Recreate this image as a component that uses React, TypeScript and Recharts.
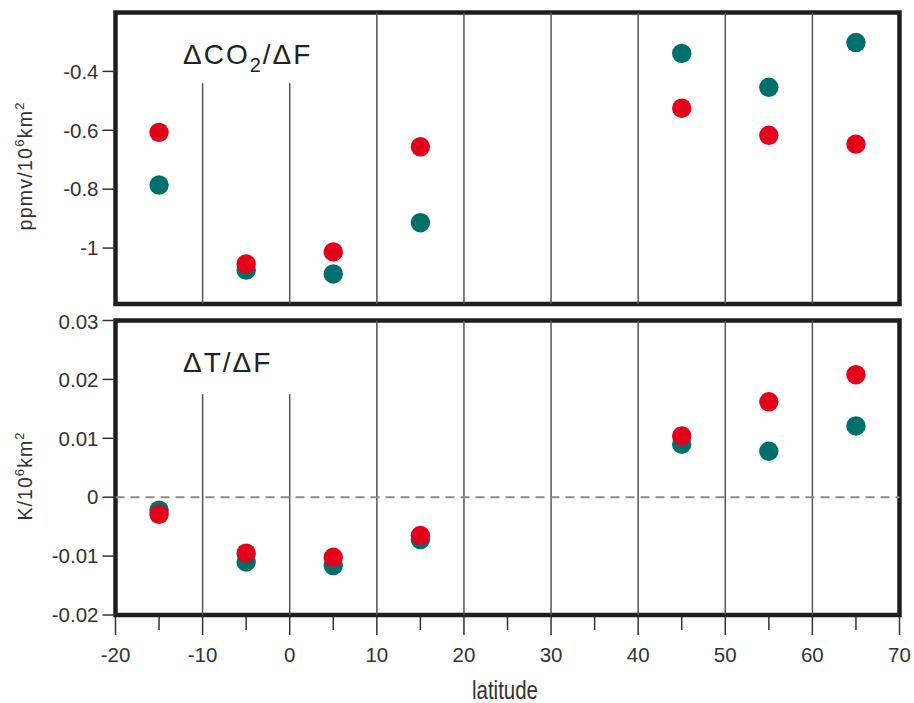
import { ScatterChart, Scatter, XAxis, YAxis, ReferenceLine, ReferenceArea } from 'recharts';

// latitude bands (deg)
const latitudes = [-15, -5, 5, 15, 45, 55, 65];

// dCO2/dF, ppmv per 10^6 km2
const co2Teal = [-0.786, -1.075, -1.088, -0.914, -0.339, -0.454, -0.302];
const co2Red = [-0.607, -1.054, -1.013, -0.656, -0.525, -0.617, -0.647];

// dT/dF, K per 10^6 km2
const tempTeal = [-0.0022, -0.011, -0.0116, -0.0072, 0.009, 0.0078, 0.0121];
const tempRed = [-0.0029, -0.0095, -0.0102, -0.0065, 0.0104, 0.0162, 0.0208];

const xTicks = [-20, -15, -10, -5, 0, 5, 10, 15, 20, 25, 30, 35, 40, 45, 50, 55, 60, 65, 70];
const co2Ticks = [-1, -0.8, -0.6, -0.4];
const tempTicks = [-0.02, -0.01, 0, 0.01, 0.02, 0.03];
const fullGrid = [10, 20, 30, 40, 50, 60];
const shortGrid = [-10, 0];

const TEAL = '#006f6b';
const RED = '#e2001a';
const FONT = '"Liberation Sans", Arial, Helvetica, sans-serif';

const toPoints = (ys: number[]) => latitudes.map((x, i) => ({ x, y: ys[i] }));

const dot = (color: string) => (props: any) => (
  <circle cx={props.cx} cy={props.cy} r={9.7} fill={color} />
);

const XTick = ({ x, y, payload }: any) => {
  const major = payload.value % 10 === 0;
  return (
    <g>
      <line x1={x} x2={x} y1={y + 2} y2={y + (major ? 20 : 15)} stroke="#333" strokeWidth={1.5} />
      {major && (
        <text x={x} y={y + 47} textAnchor="middle" fontSize={20.5} fontFamily={FONT} fill="#333">
          {payload.value}
        </text>
      )}
    </g>
  );
};

// rotated unit label with superscripts, stretched to the reference length
const YLabel = ({ prefix, length }: any) => {
  const cx = 32;
  const cy = 166.5;
  return (
    <text
      x={cx}
      y={cy}
      transform={`rotate(-90, ${cx}, ${cy})`}
      textAnchor="middle"
      fontSize={19.5}
      fontFamily={FONT}
      fill="#333"
      textLength={length}
      lengthAdjust="spacing"
    >
      {prefix}/10
      <tspan dy={-8} fontSize={13}>6</tspan>
      <tspan dy={8}>km</tspan>
      <tspan dy={-8} fontSize={13}>2</tspan>
    </text>
  );
};

const XLabel = () => (
  <text
    x={505}
    y={389}
    textAnchor="middle"
    fontSize={25}
    fontFamily={FONT}
    fill="#333"
    textLength={66}
    lengthAdjust="spacingAndGlyphs"
  >
    latitude
  </text>
);

const yTickStyle = { fill: '#333', fontSize: 20.5, fontFamily: FONT };

export default function App() {
  return (
    <div style={{ position: 'absolute', left: 0, top: 0, width: 914, height: 703, background: '#fff' }}>
      {/* upper panel: CO2 */}
      <div style={{ position: 'absolute', left: 0, top: 0 }}>
        <ScatterChart width={914} height={320} margin={{ top: 12.5, right: 14.5, bottom: 16, left: 0 }}>
          <XAxis type="number" dataKey="x" domain={[-20, 70]} hide />
          <YAxis
            type="number"
            dataKey="y"
            domain={[-1.19, -0.2]}
            ticks={co2Ticks}
            width={115.5}
            axisLine={false}
            tickLine={{ stroke: '#333', strokeWidth: 1.5 }}
            tickSize={13}
            tickMargin={4}
            tick={yTickStyle}
            label={() => <YLabel prefix="ppmv" length={128} />}
          />
          {fullGrid.map((v) => (
            <ReferenceLine key={v} x={v} stroke="#555" strokeWidth={1.5} />
          ))}
          {shortGrid.map((v) => (
            <ReferenceLine key={v} segment={[{ x: v, y: -0.44 }, { x: v, y: -1.19 }]} stroke="#555" strokeWidth={1.5} />
          ))}
          <Scatter data={toPoints(co2Teal)} shape={dot(TEAL)} isAnimationActive={false} />
          <Scatter data={toPoints(co2Red)} shape={dot(RED)} isAnimationActive={false} />
          <ReferenceArea x1={-20} x2={70} y1={-1.19} y2={-0.2} fill="none" stroke="#1e1e1e" strokeWidth={4.5} />
        </ScatterChart>
      </div>

      {/* lower panel: temperature */}
      <div style={{ position: 'absolute', left: 0, top: 310 }}>
        <ScatterChart width={914} height={393} margin={{ top: 10.5, right: 14.5, bottom: 0, left: 0 }}>
          <XAxis
            type="number"
            dataKey="x"
            domain={[-20, 70]}
            ticks={xTicks}
            interval={0}
            height={88}
            axisLine={false}
            tickLine={false}
            tickSize={0}
            tickMargin={0}
            tick={<XTick />}
            label={() => <XLabel />}
          />
          <YAxis
            type="number"
            dataKey="y"
            domain={[-0.02, 0.03]}
            ticks={tempTicks}
            width={115.5}
            axisLine={false}
            tickLine={{ stroke: '#333', strokeWidth: 1.5 }}
            tickSize={13}
            tickMargin={4}
            tick={yTickStyle}
            label={() => <YLabel prefix="K" length={88} />}
          />
          {fullGrid.map((v) => (
            <ReferenceLine key={v} x={v} stroke="#555" strokeWidth={1.5} />
          ))}
          {shortGrid.map((v) => (
            <ReferenceLine key={v} segment={[{ x: v, y: 0.0175 }, { x: v, y: -0.02 }]} stroke="#555" strokeWidth={1.5} />
          ))}
          <ReferenceLine y={0} stroke="#8a8a8a" strokeWidth={2} strokeDasharray="9 6" />
          <Scatter data={toPoints(tempTeal)} shape={dot(TEAL)} isAnimationActive={false} />
          <Scatter data={toPoints(tempRed)} shape={dot(RED)} isAnimationActive={false} />
          <ReferenceArea x1={-20} x2={70} y1={-0.02} y2={0.03} fill="none" stroke="#1e1e1e" strokeWidth={4.5} />
        </ScatterChart>
      </div>

      {/* panel titles */}
      <div style={{ position: 'absolute', left: 183, top: 41, fontFamily: FONT, fontSize: 28, lineHeight: 1, letterSpacing: 2, color: '#222' }}>
        ΔCO<sub style={{ fontSize: 20, verticalAlign: -8, lineHeight: 0 }}>2</sub>/ΔF
      </div>
      <div style={{ position: 'absolute', left: 183, top: 349, fontFamily: FONT, fontSize: 28, lineHeight: 1, letterSpacing: 2, color: '#222' }}>
        ΔT/ΔF
      </div>
    </div>
  );
}
